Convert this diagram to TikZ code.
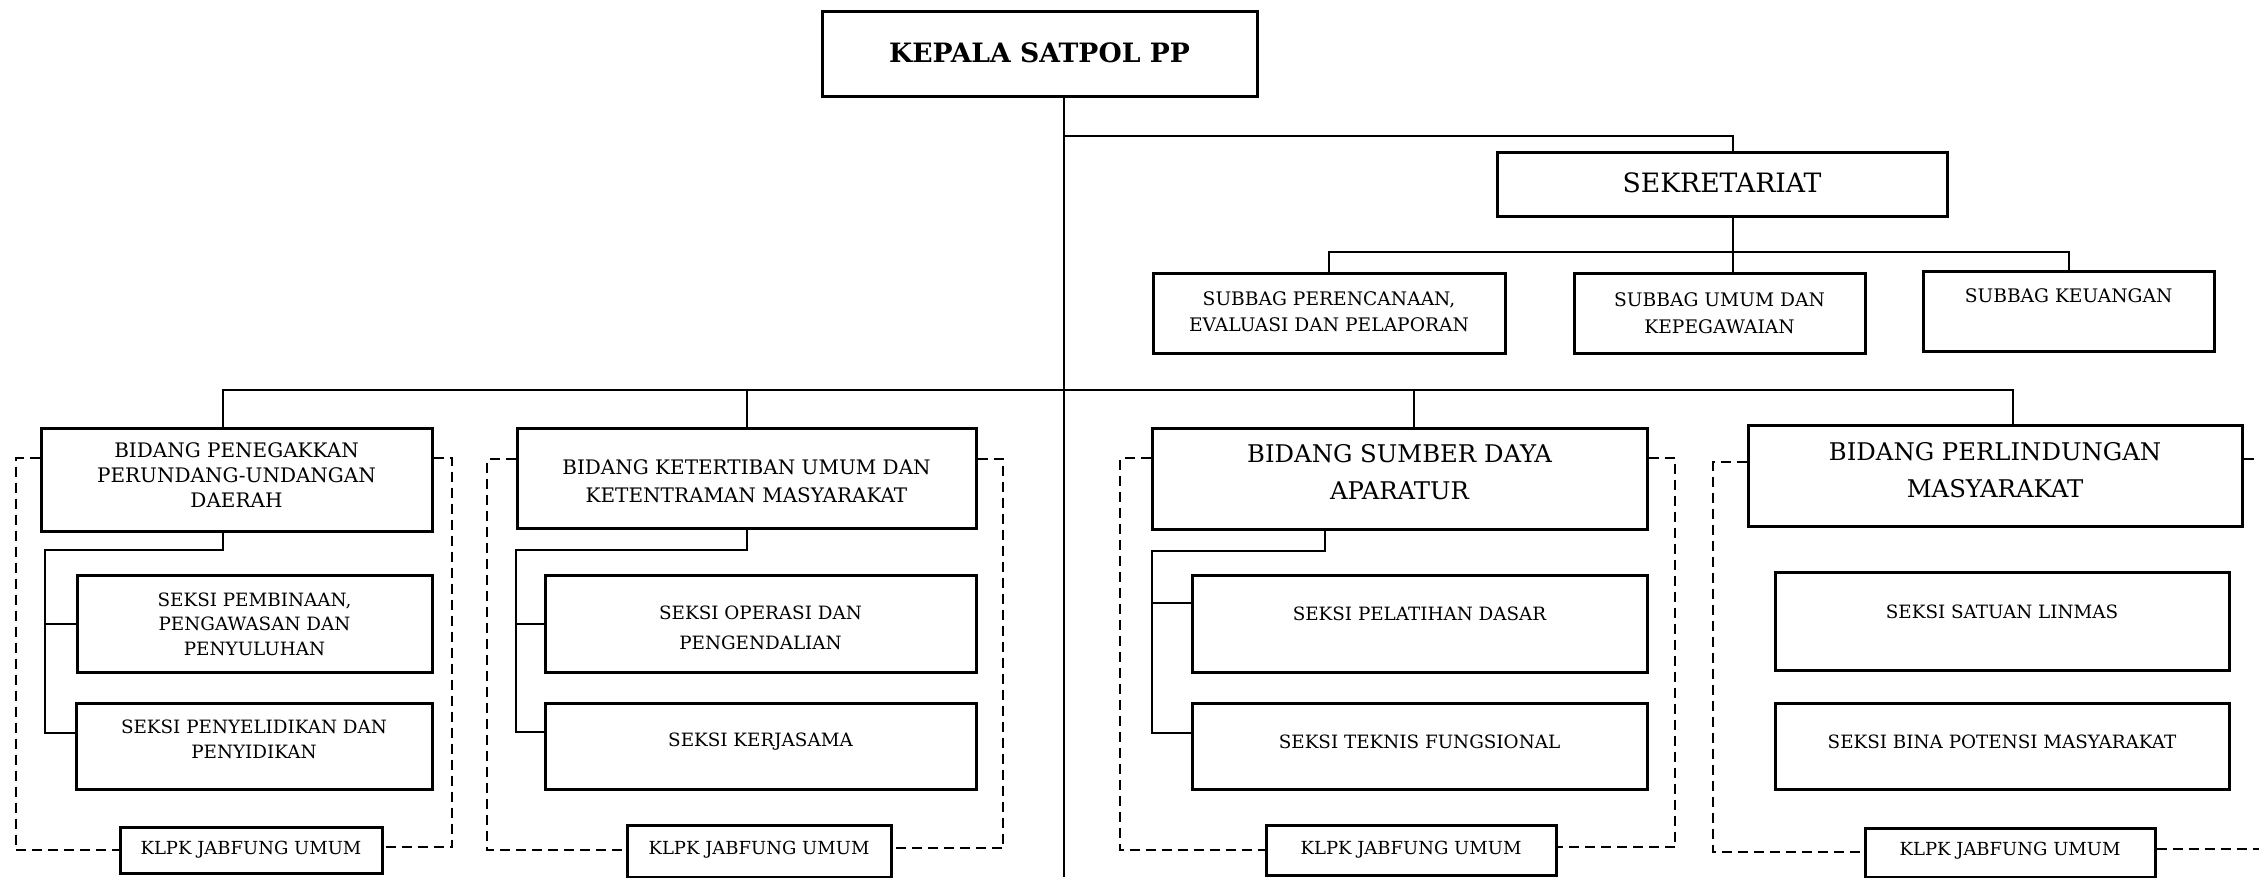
\documentclass[tikz,border=0pt]{standalone}
\usepackage{fontspec}
\setmainfont{DejaVu Serif}
\newcommand\orgbox[8]{%
  \node[box,minimum width=#4*0.3pt,minimum height=#5*0.3pt] (#1) at (#2,#3) {};
  \node[txt,font=#8] (#1t) at (#2,#6) {#7};}
\tikzset{
  box/.style={draw,line width=0.9pt,inner sep=0pt,fill=white},
  txt/.style={align=center,inner sep=0pt},
  conn/.style={line width=0.6pt},
  dsh/.style={line width=0.6pt,dash pattern=on 3pt off 1.8pt}
}
\begin{document}
\begin{tikzpicture}[x=0.3pt,y=-0.3pt]
\useasboundingbox (0,0) rectangle (2259,877);
% top level
\orgbox{kepala}{1039.5}{53.5}{435}{85}{53}{\textbf{KEPALA SATPOL PP}}{\fontsize{8}{10}\selectfont}
\orgbox{sek}{1722}{184}{450}{64}{183}{SEKRETARIAT}{\fontsize{8}{10}\selectfont}
\orgbox{sp}{1329}{313}{352}{80}{312}{SUBBAG PERENCANAAN,\\EVALUASI DAN PELAPORAN}{\fontsize{5.6}{7.8}\selectfont}
\orgbox{su}{1719.5}{313}{291}{80}{313}{SUBBAG UMUM DAN\\KEPEGAWAIAN}{\fontsize{5.6}{8.2}\selectfont}
\orgbox{sk}{2068.5}{311}{291}{80}{296}{SUBBAG KEUANGAN}{\fontsize{5.6}{8}\selectfont}
% bidang
\orgbox{b1}{236.5}{479.5}{391}{103}{475}{BIDANG PENEGAKKAN\\PERUNDANG-UNDANGAN\\DAERAH}{\fontsize{6}{7.5}\selectfont}
\orgbox{b2}{746.5}{478}{459}{100}{481}{BIDANG KETERTIBAN UMUM DAN\\KETENTRAMAN MASYARAKAT}{\fontsize{6}{8.4}\selectfont}
\orgbox{b3}{1399.5}{478.5}{495}{101}{472}{BIDANG SUMBER DAYA\\APARATUR}{\fontsize{7.3}{11}\selectfont}
\orgbox{b4}{1995}{475.5}{494}{101}{470}{BIDANG PERLINDUNGAN\\MASYARAKAT}{\fontsize{7.3}{11}\selectfont}
% seksi
\orgbox{s11}{254.5}{623.5}{355}{97}{624}{SEKSI PEMBINAAN,\\PENGAWASAN DAN\\PENYULUHAN}{\fontsize{5.5}{7.35}\selectfont}
\orgbox{s12}{254}{746}{356}{86}{739}{SEKSI PENYELIDIKAN DAN\\PENYIDIKAN}{\fontsize{5.5}{7.5}\selectfont}
\orgbox{s21}{760.5}{623.5}{431}{97}{628}{SEKSI OPERASI DAN\\PENGENDALIAN}{\fontsize{5.5}{9}\selectfont}
\orgbox{s22}{760.5}{746}{431}{86}{742}{SEKSI KERJASAMA}{\fontsize{5.5}{7.5}\selectfont}
\orgbox{s31}{1419.5}{623.5}{455}{97}{614}{SEKSI PELATIHAN DASAR}{\fontsize{5.5}{7.5}\selectfont}
\orgbox{s32}{1419.5}{746}{455}{86}{742}{SEKSI TEKNIS FUNGSIONAL}{\fontsize{5.5}{7.5}\selectfont}
\orgbox{s41}{2002}{621}{454}{98}{612}{SEKSI SATUAN LINMAS}{\fontsize{5.5}{7.5}\selectfont}
\orgbox{s42}{2002}{746}{454}{86}{742}{SEKSI BINA POTENSI MASYARAKAT}{\fontsize{5.5}{7.5}\selectfont}
% klpk
\orgbox{k1}{251}{850}{262}{46}{850}{KLPK JABFUNG UMUM}{\fontsize{5.4}{7}\selectfont}
\orgbox{k2}{759}{851}{264}{52}{850}{KLPK JABFUNG UMUM}{\fontsize{5.4}{7}\selectfont}
\orgbox{k3}{1411}{850}{290}{50}{850}{KLPK JABFUNG UMUM}{\fontsize{5.4}{7}\selectfont}
\orgbox{k4}{2010}{852.5}{290}{49}{851}{KLPK JABFUNG UMUM}{\fontsize{5.4}{7}\selectfont}
% coordinates
\coordinate (vx) at (1064,0);
\coordinate (bot) at (1064,877);
\coordinate (j1) at (1064,136);
\coordinate (xs) at (1733,0);
\coordinate (ybar) at (0,252);
\coordinate (ybb) at (0,390);
\coordinate (x1) at (223,0);
\coordinate (x3) at (1414,0);
\coordinate (x4) at (2013,0);
\coordinate (x3b) at (1325,0);
% connectors
\draw[conn] (kepala.south -| vx) -- (bot);
\draw[conn] (j1) -| (sek.north -| xs);
\draw[conn] (sek.south -| xs) -- (su.north -| xs);
\draw[conn] (sp.north) -- (sp.north |- ybar) -- (sk.north |- ybar) -- (sk.north);
\draw[conn] (b1.north -| x1) -- (x1 |- ybb) -- (x4 |- ybb) -- (b4.north -| x4);
\draw[conn] (b2.north) -- (b2.north |- ybb);
\draw[conn] (b3.north -| x3) -- (x3 |- ybb);
% bidang 1 sub
\coordinate (l1a) at (45,550); \coordinate (l1b) at (45,733);
\draw[conn] (b1.south -| x1) |- (l1a) -- (l1b) -- (s12.west |- l1b);
\draw[conn] (s11.west -| l1a) -- (s11.west);
% bidang 2 sub
\coordinate (l2a) at (516,550); \coordinate (l2b) at (516,732);
\draw[conn] (b2.south) |- (l2a) -- (l2b) -- (s22.west |- l2b);
\draw[conn] (s21.west -| l2a) -- (s21.west);
% bidang 3 sub
\coordinate (l3a) at (1152,551); \coordinate (l3b) at (1152,733); \coordinate (l3c) at (1152,603);
\draw[conn] (b3.south -| x3b) |- (l3a) -- (l3b) -- (s32.west |- l3b);
\draw[conn] (l3c) -- (s31.west |- l3c);
% dashed groups
\coordinate (d1a) at (16,458); \coordinate (d1b) at (16,850);
\coordinate (d1c) at (452,458); \coordinate (d1d) at (452,847);
\draw[dsh] (b1.west |- d1a) -- (d1a) -- (d1b) -- (k1.west |- d1b);
\draw[dsh] (b1.east |- d1c) -- (d1c) -- (d1d) -- (k1.east |- d1d);
\coordinate (d2a) at (487,459); \coordinate (d2b) at (487,850);
\coordinate (d2c) at (1003,459); \coordinate (d2d) at (1003,848);
\draw[dsh] (b2.west |- d2a) -- (d2a) -- (d2b) -- (k2.west |- d2b);
\draw[dsh] (b2.east |- d2c) -- (d2c) -- (d2d) -- (k2.east |- d2d);
\coordinate (d3a) at (1120,458); \coordinate (d3b) at (1120,850);
\coordinate (d3c) at (1675,458); \coordinate (d3d) at (1675,847);
\draw[dsh] (b3.west |- d3a) -- (d3a) -- (d3b) -- (k3.west |- d3b);
\draw[dsh] (b3.east |- d3c) -- (d3c) -- (d3d) -- (k3.east |- d3d);
\coordinate (d4a) at (1713,462); \coordinate (d4b) at (1713,852);
\coordinate (d4c) at (2259,459); \coordinate (d4d) at (2259,849);
\draw[dsh] (b4.west |- d4a) -- (d4a) -- (d4b) -- (k4.west |- d4b);
\draw[dsh] (b4.east |- d4c) -- (d4c);
\draw[dsh] (k4.east |- d4d) -- (d4d);
\end{tikzpicture}
\end{document}
